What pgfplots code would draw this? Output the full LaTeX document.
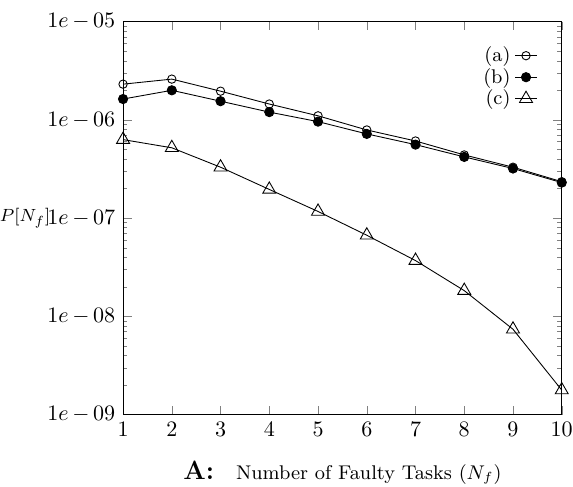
\documentclass[border=0pt]{standalone}
\usepackage{pgfplots}
\pgfplotsset{compat=1.18}
\begin{document}
\begin{tikzpicture}
\useasboundingbox (-55.8pt,-32.4pt) rectangle (204pt,188pt);
\begin{axis}[
  scale only axis,
  width=198.9pt, height=178.2pt,
  ymode=log,
  xmin=1, xmax=10, ymin=1e-9, ymax=1e-5,
  xtick={1,2,3,4,5,6,7,8,9,10},
  ytick={1e-9,1e-8,1e-7,1e-6,1e-5},
  yticklabels={$1e\,{-}\,09$,$1e\,{-}\,08$,$1e\,{-}\,07$,$1e\,{-}\,06$,$1e\,{-}\,05$},
  tick align=inside,
  major tick length=4pt, minor tick length=2pt,
  clip=false,
  xlabel={{\large\textbf{A:}}\quad{\small Number of Faulty Tasks ($N_f$)}},
  xlabel style={yshift=-4pt},
  ylabel={$P[N_f]$},
  ylabel style={font=\footnotesize, inner sep=0pt, rotate=-90, at={(axis description cs:0,0.5)}, anchor=east, xshift=-32.8pt},
  legend plot pos=right,
  legend cell align=right,
  legend style={draw=none, fill=none, font=\small, row sep=-2.5pt,
    at={(axis description cs:0.96,0.96)}, anchor=north east},
  legend image code/.code={\draw[mark repeat=2,mark phase=2] plot coordinates {(0cm,0cm) (0.17cm,0cm) (0.34cm,0cm)};},
]
\addplot[black, thin, mark=o, mark size=1.9pt] coordinates {
(1,2.31e-6) (2,2.6e-6) (3,1.96e-6) (4,1.45e-6) (5,1.1e-6) (6,7.9e-7) (7,6.1e-7) (8,4.4e-7) (9,3.3e-7) (10,2.35e-7)};
\addlegendentry{(a)}
\addplot[black, thin, mark=*, mark size=2.1pt] coordinates {
(1,1.63e-6) (2,2.0e-6) (3,1.55e-6) (4,1.2e-6) (5,9.6e-7) (6,7.2e-7) (7,5.6e-7) (8,4.2e-7) (9,3.2e-7) (10,2.3e-7)};
\addlegendentry{(b)}
\addplot[black, thin, mark=triangle, mark size=3.4pt] coordinates {
(1,6.3e-7) (2,5.2e-7) (3,3.3e-7) (4,1.96e-7) (5,1.17e-7) (6,6.7e-8) (7,3.7e-8) (8,1.83e-8) (9,7.4e-9) (10,1.78e-9)};
\addlegendentry{(c)}
\end{axis}
\end{tikzpicture}
\end{document}
